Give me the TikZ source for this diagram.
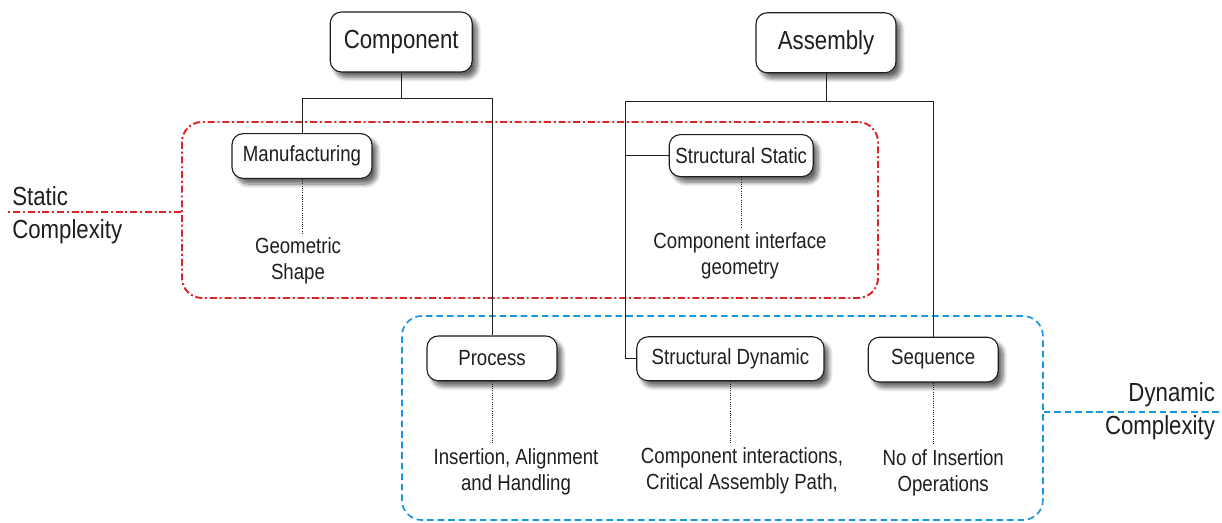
\documentclass[tikz,border=0pt]{standalone}
\usepackage{fontspec}
\setmainfont{Liberation Sans}[FakeStretch=0.85]
\usetikzlibrary{positioning,shadows.blur}
\definecolor{zred}{RGB}{221,36,40}
\definecolor{zblue}{RGB}{24,150,222}
\definecolor{ink}{RGB}{30,30,30}

\begin{document}
\begin{tikzpicture}[font=\fontsize{15.6}{18.5}\selectfont,text=ink]
\tikzstyle{b}=[draw=ink,line width=0.8pt,rounded corners=0.28cm,fill=white,align=center,blur shadow={shadow xshift=3.5pt,shadow yshift=-4pt,shadow blur steps=8,shadow blur radius=3pt,shadow opacity=60}]
\tikzstyle{big}=[font=\fontsize{18.6}{23.5}\selectfont]
\tikzstyle{t}=[align=center]
\tikzstyle{tree}=[draw=ink,line width=0.7pt]
\tikzstyle{dl}=[draw=ink,densely dotted,line width=0.6pt]
\tikzstyle{zs}=[draw=zred,line width=1.4pt,rounded corners=0.5cm,dash pattern=on 5pt off 2pt on 1.4pt off 2pt]
\tikzstyle{zd}=[draw=zblue,line width=1.2pt,rounded corners=0.5cm,dash pattern=on 4.7pt off 2.8pt]
\useasboundingbox (0,0) rectangle (30.55,13.05);
\node[zs,minimum width=17.4cm,minimum height=4.4cm] (szone) at (13.25,7.8) {};
\node[zd,minimum width=16.025cm,minimum height=5.1cm] (dzone) at (18.06,2.6) {};
\node[big,align=left,anchor=west,inner sep=0pt] (stat) at (0.3,7.68) {Static\\Complexity};
\node[big,align=right,anchor=east,inner sep=0pt] (dyn) at (30.38,2.78) {Dynamic\\Complexity};
\coordinate (sl) at (0.15,7.75);
\coordinate (dr) at (30.55,2.75);
\draw[zs] (sl -| szone.west) -- (sl);
\draw[zd] (dr -| dzone.east) -- (dr);
\node[b,big,minimum width=3.55cm,minimum height=1.5cm] (comp) at (10.03,12.0) {Component};
\node[b,big,minimum width=3.5cm,minimum height=1.5cm] (asm) at (20.65,11.98) {Assembly};
\node[b,minimum width=3.5cm,minimum height=1.12cm] (manuf) at (7.55,9.15) {Manufacturing};
\node[b,minimum width=3.6cm,minimum height=1.05cm] (sstat) at (18.53,9.16) {Structural Static};
\node[b,minimum width=3.25cm,minimum height=1.12cm] (proc) at (12.3,4.09) {Process};
\node[b,minimum width=4.68cm,minimum height=1.1cm] (sdyn) at (18.26,4.08) {Structural Dynamic};
\node[b,minimum width=3.25cm,minimum height=1.12cm] (seq) at (23.33,4.06) {Sequence};
\node[t] (geo) at (7.45,6.52) {Geometric\\Shape};
\node[t] (iface) at (18.5,6.65) {Component interface\\geometry};
\node[t] (ins) at (12.9,1.26) {Insertion, Alignment\\and Handling};
\node[t] (inter) at (18.55,1.28) {Component interactions,\\Critical Assembly Path,};
\node[t] (nins) at (23.58,1.23) {No of Insertion\\Operations};
\coordinate (sp) at (15.63,10.53);
\draw[tree] (comp.south) -- ++(0,-0.65) coordinate (cb);
\draw[tree] (manuf.north) |- (cb) -| (proc.north);
\draw[tree] (asm.south) -- ++(0,-0.7) coordinate (ab);
\draw[tree] (sdyn.west) -| (sp |- ab) -- (ab) -| (seq.north);
\draw[tree] (sstat.west) -- (sstat.west -| sp);
\foreach \a/\b in {manuf/geo,sstat/iface,proc/ins,sdyn/inter,seq/nins} \draw[dl] (\a.south) -- (\a.south |- \b.north);
\end{tikzpicture}
\end{document}
